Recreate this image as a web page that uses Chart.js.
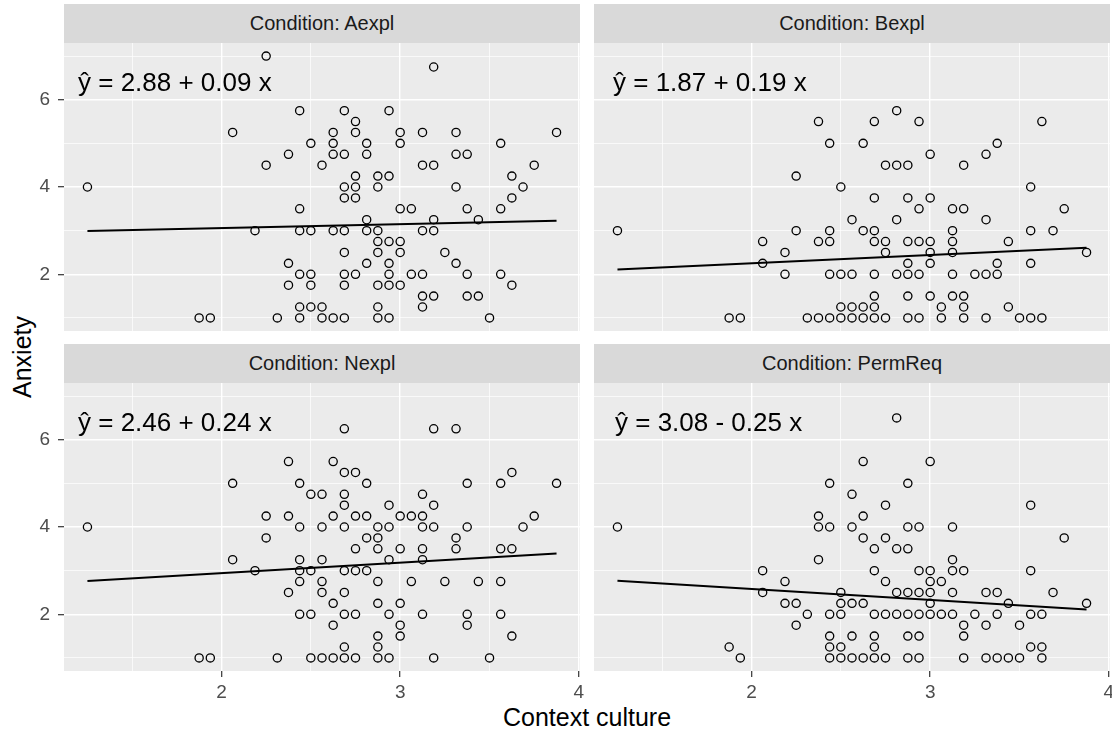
<!DOCTYPE html>
<html>
<head>
<meta charset="utf-8">
<title>Anxiety by context culture</title>
<script src="https://cdn.jsdelivr.net/npm/chart.js@4.4.0/dist/chart.umd.min.js"></script>
<style>
  body { margin: 0; background: #ffffff; font-family: "Liberation Sans", Arial, sans-serif; }
  #wrap { position: relative; width: 1112px; height: 732px; overflow: hidden; }
  canvas { position: absolute; }
  .strip { position: absolute; background: #D9D9D9; color: #1A1A1A; font-size: 20px;
           display: flex; align-items: center; justify-content: center; }
  .axis-title { position: absolute; color: #000000; font-size: 25px; line-height: 1; white-space: nowrap; }
</style>
</head>
<body>
<div id="wrap">
  <div class="axis-title" style="left:587px;top:717px;transform:translate(-50%,-50%)">Context culture</div>
  <div class="axis-title" style="left:22px;top:357px;transform:translate(-50%,-50%) rotate(-90deg)">Anxiety</div>
</div>
<script>
const conditions = ['Aexpl', 'Bexpl', 'Nexpl', 'PermReq'];
const intercepts = [2.88, 1.87, 2.46, 3.08];
const slopes = [0.09, 0.19, 0.24, -0.25];
const xTicks = [1.5, 2, 2.5, 3, 3.5, 4];
const yTicks = [1, 2, 3, 4, 5, 6, 7];

// [context culture, anxiety] per respondent
const aexplPoints = [
  [1.25,4],[1.875,1],[1.9375,1],[2.0625,5.25],[2.1875,3],[2.25,7],[2.25,4.5],[2.3125,1],
  [2.375,4.75],[2.375,2.25],[2.375,1.75],[2.4375,5.75],[2.4375,3.5],[2.4375,3],[2.4375,2],
  [2.4375,1.25],[2.4375,1],[2.5,5],[2.5,3],[2.5,2],[2.5,1.75],[2.5,1.25],[2.5625,4.5],
  [2.5625,1.25],[2.5625,1],
  [3.1875,6.75],
  [2.6875,5.75],[2.9375,5.75],
  [2.75,5.5],
  [2.625,5.25],[2.75,5.25],[3,5.25],[3.125,5.25],[3.3125,5.25],[3.875,5.25],
  [2.625,5],[2.8125,5],[3,5],[3.5625,5],
  [2.625,4.75],[2.6875,4.75],[2.8125,4.75],[3.3125,4.75],[3.375,4.75],
  [3.125,4.5],[3.1875,4.5],[3.75,4.5],
  [2.75,4.25],[2.875,4.25],[2.9375,4.25],[3.625,4.25],
  [2.6875,4],[2.75,4],[2.875,4],[3.3125,4],[3.6875,4],
  [2.6875,3.75],[2.75,3.75],[3.625,3.75],
  [3,3.5],[3.0625,3.5],[3.375,3.5],[3.5625,3.5],
  [2.8125,3.25],[3.1875,3.25],[3.4375,3.25],
  [2.625,3],[2.6875,3],[2.8125,3],[2.875,3],[3.125,3],[3.1875,3],
  [2.875,2.75],[2.9375,2.75],[3,2.75],
  [2.6875,2.5],[2.875,2.5],[3,2.5],[3.25,2.5],
  [2.8125,2.25],[2.9375,2.25],[3.3125,2.25],
  [2.6875,2],[2.75,2],[2.9375,2],[3.0625,2],[3.125,2],[3.375,2],[3.5625,2],
  [2.6875,1.75],[2.875,1.75],[2.9375,1.75],[3,1.75],[3.625,1.75],
  [3.125,1.5],[3.1875,1.5],[3.375,1.5],[3.4375,1.5],
  [2.875,1.25],[3.125,1.25],
  [2.625,1],[2.6875,1],[2.875,1],[2.9375,1],[3.5,1]
];

const bexplPoints = [
  [1.25,3],[1.875,1],[1.9375,1],[2.0625,2.75],[2.0625,2.25],[2.1875,2.5],[2.1875,2],[2.25,4.25],
  [2.25,3],[2.3125,1],[2.375,5.5],[2.375,2.75],[2.375,1],[2.4375,5],[2.4375,3],[2.4375,2.75],
  [2.4375,2],[2.4375,1],[2.5,4],[2.5,2],[2.5,1.25],[2.5,1],[2.5625,3.25],[2.5625,2],
  [2.5625,1.25],[2.5625,1],
  [2.8125,5.75],
  [2.6875,5.5],[2.9375,5.5],[3.625,5.5],
  [2.625,5],[3.375,5],
  [3,4.75],[3.3125,4.75],
  [2.75,4.5],[2.8125,4.5],[2.875,4.5],[3.1875,4.5],
  [3.5625,4],
  [2.6875,3.75],[2.875,3.75],[3,3.75],
  [2.9375,3.5],[3.125,3.5],[3.1875,3.5],[3.75,3.5],
  [2.8125,3.25],[3.3125,3.25],
  [2.625,3],[2.6875,3],[3.125,3],[3.5625,3],[3.6875,3],
  [2.6875,2.75],[2.75,2.75],[2.875,2.75],[2.9375,2.75],[3,2.75],[3.125,2.75],[3.4375,2.75],
  [2.75,2.5],[3,2.5],[3.125,2.5],[3.875,2.5],
  [2.875,2.25],[3,2.25],[3.375,2.25],[3.5625,2.25],
  [2.6875,2],[2.8125,2],[2.875,2],[2.9375,2],[3.125,2],[3.25,2],[3.3125,2],[3.375,2],
  [2.6875,1.5],[2.875,1.5],[3,1.5],[3.125,1.5],[3.1875,1.5],
  [2.625,1.25],[2.6875,1.25],[3.0625,1.25],[3.1875,1.25],[3.4375,1.25],
  [2.625,1],[2.6875,1],[2.75,1],[2.875,1],[2.9375,1],[3.0625,1],[3.1875,1],[3.3125,1],
  [3.5,1],[3.5625,1],[3.625,1]
];

const nexplPoints = [
  [1.25,4],[1.875,1],[1.9375,1],[2.0625,5],[2.0625,3.25],[2.1875,3],[2.25,4.25],[2.25,3.75],
  [2.3125,1],[2.375,5.5],[2.375,4.25],[2.375,2.5],[2.4375,5],[2.4375,4],[2.4375,3.25],
  [2.4375,3],[2.4375,2.75],[2.4375,2],[2.5,4.75],[2.5,3],[2.5,2],[2.5,1],[2.5625,4.75],
  [2.5625,4],[2.5625,3.25],[2.5625,2.75],[2.5625,2.5],[2.5625,1],
  [2.6875,6.25],[3.1875,6.25],[3.3125,6.25],
  [2.625,5.5],
  [2.6875,5.25],[2.75,5.25],[3.625,5.25],
  [2.8125,5],[3.375,5],[3.5625,5],[3.875,5],
  [2.6875,4.75],[3.125,4.75],
  [2.6875,4.5],[2.9375,4.5],[3.1875,4.5],
  [2.625,4.25],[2.75,4.25],[2.8125,4.25],[3,4.25],[3.0625,4.25],[3.125,4.25],[3.75,4.25],
  [2.6875,4],[2.875,4],[2.9375,4],[3.125,4],[3.1875,4],[3.375,4],[3.6875,4],
  [2.8125,3.75],[2.875,3.75],[3.3125,3.75],
  [2.75,3.5],[2.875,3.5],[3,3.5],[3.125,3.5],[3.3125,3.5],[3.5625,3.5],[3.625,3.5],
  [2.9375,3.25],[3.125,3.25],
  [2.6875,3],[2.75,3],[2.8125,3],
  [2.875,2.75],[3.0625,2.75],[3.25,2.75],[3.4375,2.75],[3.5625,2.75],
  [2.6875,2.5],
  [2.625,2.25],[2.875,2.25],[3,2.25],
  [2.6875,2],[2.75,2],[2.9375,2],[3.125,2],[3.375,2],[3.5625,2],
  [2.625,1.75],[3,1.75],[3.375,1.75],
  [2.875,1.5],[3,1.5],[3.625,1.5],
  [2.6875,1.25],[2.875,1.25],
  [2.625,1],[2.6875,1],[2.75,1],[2.875,1],[2.9375,1],[3.1875,1],[3.5,1]
];

const permreqPoints = [
  [1.25,4],[1.875,1.25],[1.9375,1],[2.0625,3],[2.0625,2.5],[2.1875,2.75],[2.1875,2.25],
  [2.25,2.25],[2.25,1.75],[2.3125,2],[2.375,4.25],[2.375,4],[2.375,3.25],[2.4375,5],
  [2.4375,4],[2.4375,2],[2.4375,1.5],[2.4375,1.25],[2.4375,1],[2.5,2.5],[2.5,2.25],[2.5,2],
  [2.5,1.25],[2.5,1],[2.5625,4.75],[2.5625,4],[2.5625,2.25],[2.5625,1.5],[2.5625,1],
  [2.8125,6.5],
  [2.625,5.5],[3,5.5],
  [2.875,5],
  [2.75,4.5],[3.5625,4.5],
  [2.625,4.25],
  [2.875,4],[2.9375,4],[3.125,4],
  [2.625,3.75],[2.75,3.75],[3.75,3.75],
  [2.6875,3.5],[2.8125,3.5],[2.875,3.5],
  [3.125,3.25],
  [2.6875,3],[2.9375,3],[3,3],[3.125,3],[3.1875,3],[3.5625,3],
  [2.75,2.75],[3,2.75],[3.0625,2.75],
  [2.8125,2.5],[2.875,2.5],[2.9375,2.5],[3,2.5],[3.125,2.5],[3.3125,2.5],[3.375,2.5],[3.6875,2.5],
  [2.625,2.25],[3,2.25],[3.4375,2.25],[3.875,2.25],
  [2.6875,2],[2.75,2],[2.8125,2],[2.875,2],[2.9375,2],[3,2],[3.0625,2],[3.125,2],[3.25,2],
  [3.375,2],[3.5625,2],[3.625,2],
  [3.1875,1.75],[3.3125,1.75],[3.5,1.75],
  [2.6875,1.5],[2.875,1.5],[2.9375,1.5],[3.1875,1.5],
  [2.6875,1.25],[3.5625,1.25],[3.625,1.25],
  [2.625,1],[2.6875,1],[2.75,1],[2.875,1],[2.9375,1],[3.1875,1],[3.3125,1],[3.375,1],
  [3.4375,1],[3.5,1],[3.625,1]
];

const panelPoints = [aexplPoints, bexplPoints, nexplPoints, permreqPoints];

// where each facet sits on the page
const panels = [
  { left: 0,   top: 43,  width: 580, height: 288, axisY: 64, axisX: 0,  padRight: 0, labelDx: 14 },
  { left: 594, top: 43,  width: 516, height: 288, axisY: 0,  axisX: 0,  padRight: 0, labelDx: 19 },
  { left: 0,   top: 383, width: 588, height: 328, axisY: 64, axisX: 40, padRight: 8, labelDx: 14 },
  { left: 594, top: 383, width: 518, height: 328, axisY: 0,  axisX: 40, padRight: 2, labelDx: 21 }
];

Chart.defaults.font.family = '"Liberation Sans", Arial, sans-serif';

const panelBackground = {
  id: 'panelBackground',
  beforeDraw(chart) {
    const a = chart.chartArea;
    chart.ctx.save();
    chart.ctx.fillStyle = '#EBEBEB';
    chart.ctx.fillRect(a.left, a.top, a.right - a.left, a.bottom - a.top);
    chart.ctx.restore();
  }
};

const equationLabel = {
  id: 'equationLabel',
  afterDraw(chart, args, opts) {
    const a = chart.chartArea;
    const ctx = chart.ctx;
    ctx.save();
    ctx.fillStyle = '#000000';
    ctx.font = '26px "Liberation Sans", Arial, sans-serif';
    ctx.textBaseline = 'alphabetic';
    ctx.textAlign = 'left';
    ctx.fillText(opts.text, a.left + opts.dx, a.top + 48);
    ctx.restore();
  }
};

function isMajorX(c) { return c.tick && Number.isInteger(c.tick.value); }
function isMajorY(c) { return c.tick && c.tick.value % 2 === 0; }

function zeroPadding(s) {
  s.paddingLeft = 0; s.paddingRight = 0; s.paddingTop = 0; s.paddingBottom = 0;
}

const wrap = document.getElementById('wrap');

panels.forEach(function (p, i) {
  const canvas = document.createElement('canvas');
  canvas.width = p.width;
  canvas.height = p.height;
  canvas.style.left = p.left + 'px';
  canvas.style.top = p.top + 'px';
  wrap.appendChild(canvas);

  const strip = document.createElement('div');
  strip.className = 'strip';
  strip.style.left = (p.left + p.axisY) + 'px';
  strip.style.top = (p.top - 39) + 'px';
  strip.style.width = (p.width - p.axisY - p.padRight) + 'px';
  strip.style.height = '39px';
  strip.textContent = 'Condition: ' + conditions[i];
  wrap.appendChild(strip);

  const points = panelPoints[i].map(d => ({ x: d[0], y: d[1] }));
  const xs = panelPoints[i].map(d => d[0]);
  const xLo = Math.min(...xs);
  const xHi = Math.max(...xs);
  const fitLine = [
    { x: xLo, y: intercepts[i] + slopes[i] * xLo },
    { x: xHi, y: intercepts[i] + slopes[i] * xHi }
  ];
  const sign = slopes[i] < 0 ? ' - ' : ' + ';
  const equation = 'ŷ = ' + intercepts[i].toFixed(2) + sign + Math.abs(slopes[i]).toFixed(2) + ' x';

  new Chart(canvas.getContext('2d'), {
    type: 'scatter',
    data: {
      datasets: [
        {
          data: fitLine,
          showLine: true,
          borderColor: '#000000',
          borderWidth: 2,
          pointRadius: 0,
          order: 0
        },
        {
          data: points,
          pointStyle: 'circle',
          pointRadius: 4.1,
          borderWidth: 1.3,
          borderColor: '#000000',
          backgroundColor: 'rgba(0,0,0,0)',
          order: 1
        }
      ]
    },
    options: {
      responsive: false,
      animation: false,
      events: [],
      layout: { autoPadding: false, padding: { left: 0, top: 0, bottom: 0, right: p.padRight } },
      plugins: {
        legend: { display: false },
        tooltip: { enabled: false },
        equationLabel: { text: equation, dx: p.labelDx }
      },
      scales: {
        x: {
          type: 'linear',
          min: 1.11875,
          max: 4.00625,
          afterBuildTicks: s => { s.ticks = xTicks.map(v => ({ value: v })); },
          afterFit: s => { s.height = p.axisX; zeroPadding(s); },
          border: { display: false },
          grid: {
            color: '#FFFFFF',
            lineWidth: c => isMajorX(c) ? 1.4 : 0.7,
            drawTicks: p.axisX > 0,
            tickLength: 6,
            tickWidth: 1.2,
            tickColor: c => isMajorX(c) ? '#333333' : 'rgba(0,0,0,0)'
          },
          ticks: {
            display: p.axisX > 0,
            autoSkip: false,
            maxRotation: 0,
            padding: 4,
            color: '#4D4D4D',
            font: { size: 19 },
            callback: v => Number.isInteger(v) ? v : ''
          }
        },
        y: {
          type: 'linear',
          min: 0.7,
          max: 7.3,
          afterBuildTicks: s => { s.ticks = yTicks.map(v => ({ value: v })); },
          afterFit: s => { s.width = p.axisY; zeroPadding(s); },
          border: { display: false },
          grid: {
            color: '#FFFFFF',
            lineWidth: c => isMajorY(c) ? 1.4 : 0.7,
            drawTicks: p.axisY > 0,
            tickLength: 6,
            tickWidth: 1.2,
            tickColor: c => isMajorY(c) ? '#333333' : 'rgba(0,0,0,0)'
          },
          ticks: {
            display: p.axisY > 0,
            padding: 8,
            color: '#4D4D4D',
            font: { size: 19 },
            callback: v => v % 2 === 0 ? v : ''
          }
        }
      }
    },
    plugins: [panelBackground, equationLabel]
  });
});
</script>
</body>
</html>
